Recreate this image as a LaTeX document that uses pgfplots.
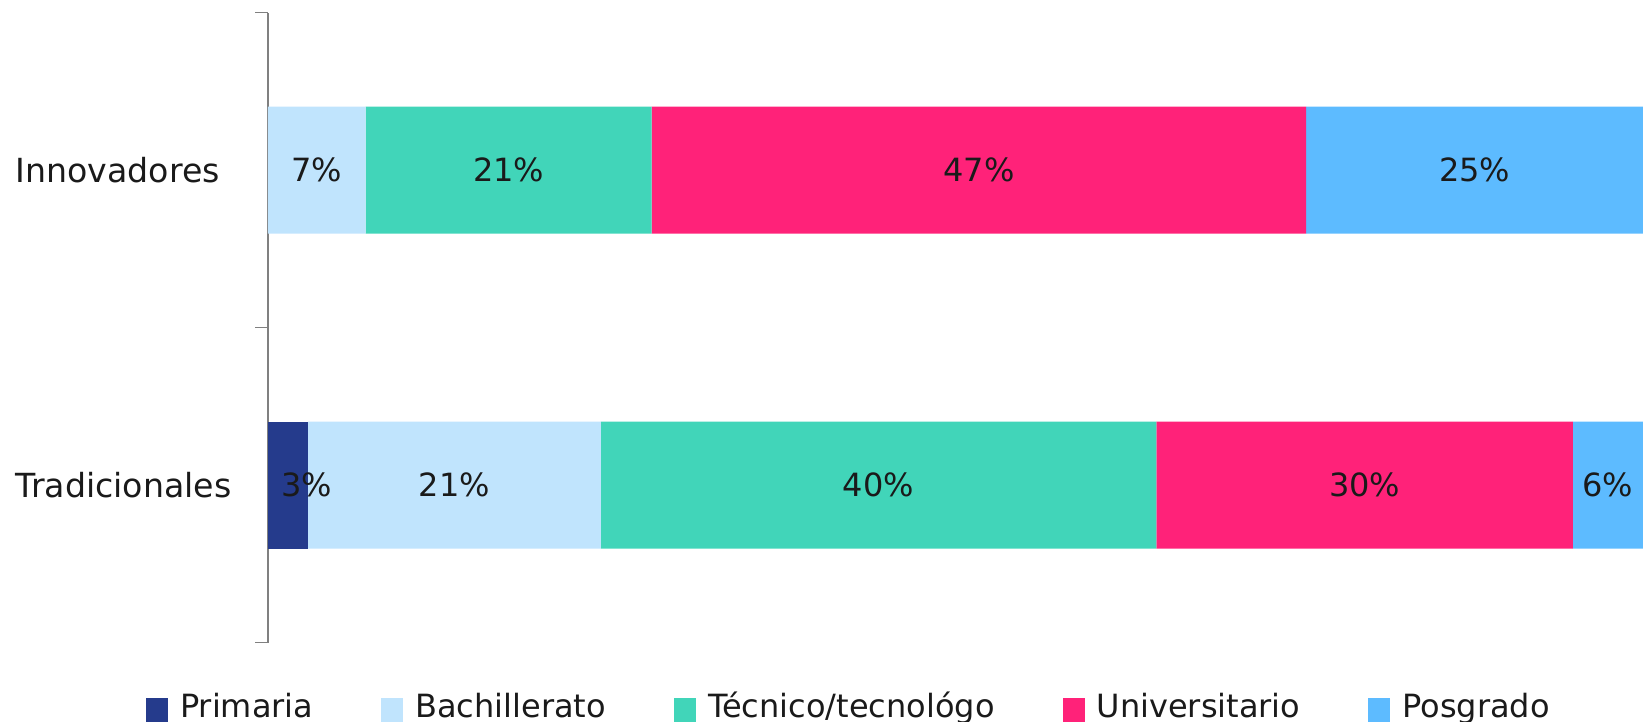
\documentclass[border=0pt]{standalone}
\usepackage{pgfplots}
\pgfplotsset{compat=1.18}
\usepackage{fontspec}
\setmainfont{DejaVu Sans}

\definecolor{cPri}{HTML}{253B8C}
\definecolor{cBac}{HTML}{C0E4FD}
\definecolor{cTec}{HTML}{41D5B9}
\definecolor{cUni}{HTML}{FF2279}
\definecolor{cPos}{HTML}{5DBBFF}
\definecolor{txt}{HTML}{1A1A1A}

\newcommand{\lbl}{\fontsize{16}{19}\selectfont}

\begin{document}
\begin{tikzpicture}
\begin{axis}[
  name=main,
  width=687.5pt, height=315pt, scale only axis,
  xbar stacked, bar width=63.5pt,
  xmin=0, xmax=100, ymin=-0.5, ymax=1.5,
  axis x line=none, axis y line*=left,
  y axis line style={gray, line width=0.75pt},
  ytick={-0.5,0.5,1.5}, yticklabels={},
  tick align=outside, major tick length=6.3pt,
  ytick style={gray, line width=0.75pt},
  extra y ticks={0,1}, extra y tick labels={Tradicionales,Innovadores},
  extra y tick style={major tick length=0pt, tick style={draw=none}},
  yticklabel style={font=\fontsize{16.6}{19}\selectfont, text=txt, anchor=east, text width=126pt, align=left, inner sep=0pt},
  legend columns=5,
  legend style={at={(rel axis cs:0.4218,0)}, anchor=south, yshift=-41.5pt,
    draw=none, fill=none, inner sep=0pt, font=\lbl, text=txt,
    nodes={inner sep=0pt, text height=12pt, text depth=4pt},
    /tikz/every odd column/.append style={column sep=6pt},
    /tikz/every even column/.append style={column sep=34pt}},
  legend image code/.code={\fill[#1] (0pt,-6.3pt) rectangle (11pt,5.7pt);},
]
\addplot[fill=cPri, draw=none] coordinates {(0,1) (2.9,0)};
\addplot[fill=cBac, draw=none] coordinates {(7.1,1) (21.3,0)};
\addplot[fill=cTec, draw=none] coordinates {(20.8,1) (40.4,0)};
\addplot[fill=cUni, draw=none] coordinates {(47.6,1) (30.3,0)};
\addplot[fill=cPos, draw=none] coordinates {(24.5,1) (5.1,0)};
\legend{Primaria,Bachillerato,Técnico/tecnológo,Universitario,Posgrado}
\end{axis}
\begin{axis}[
  width=687.5pt, height=315pt, scale only axis,
  xmin=0, xmax=100, ymin=-0.5, ymax=1.5,
  hide axis, clip=false]
\addplot[draw=none, mark=none, nodes near coords, point meta=explicit symbolic,
  every node near coord/.append style={anchor=center, font=\lbl, text=txt}]
  coordinates {(3.55,1)[7\%] (17.5,1)[21\%] (51.7,1)[47\%] (87.75,1)[25\%]
               (2.8,0)[3\%] (13.55,0)[21\%] (44.4,0)[40\%] (79.75,0)[30\%] (97.45,0)[6\%]};
\end{axis}
\pgfresetboundingbox
\path ([xshift=-134pt,yshift=-39.5pt]main.south west) rectangle ([yshift=6.3pt]main.north east);
\end{tikzpicture}
\end{document}
